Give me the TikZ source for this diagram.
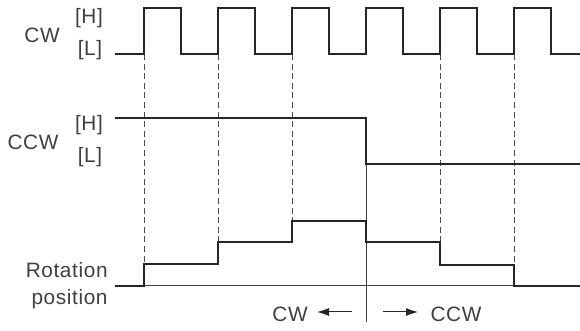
\documentclass[tikz,border=0pt]{standalone}
\usepackage{fontspec}
\setmainfont{Liberation Sans}[LetterSpace=3]
\usetikzlibrary{arrows.meta}

\begin{document}
\begin{tikzpicture}[x=0.5pt, y=-0.5pt, font=\fontsize{10.4}{12}\selectfont,
    wave/.style={line width=1.3pt, draw=black!85, line join=miter},
    guide/.style={line width=0.5pt, draw=black!70, dash pattern=on 3pt off 1.8pt},
    axis/.style={line width=0.5pt, draw=black!75},
    sig/.style={text=black!75, inner sep=0pt},
    dir/.style={line width=0.5pt, draw=black!85, -{Latex[length=6pt, width=4pt]}}]
    \useasboundingbox (0,0) rectangle (580,331);

    % Signal Labels
    % -- CW
    \node[sig] (cw) at (42,35) {CW};
    \node[sig] (cwH) at (89,18) {[H]};
    \node[sig] (cwL) at (90,50) {[L]};

    % -- CCW
    \node[sig] (ccw) at (33,142) {CCW};
    \node[sig] (ccwH) at (89,125) {[H]};
    \node[sig] (ccwL) at (90,157) {[L]};

    % -- rotation
    \node[sig, anchor=east, align=right] (rot) at (108,286) {Rotation\\[1.5pt]position};

    % Guide Lines
    \draw[guide] (144,54) -- (144,264);
    \draw[guide] (218,54) -- (218,242);
    \draw[guide] (292,54) -- (292,221);
    \draw[guide] (440,54) -- (440,242);
    \draw[guide] (514,54) -- (514,265);

    % Axis Lines
    \draw[axis] (144,286) -- (580,286);
    \draw[axis] (366,164) -- (366,322);

    % CW Pulse Train
    \draw[wave] (115,54) -- (144,54) -- (144,8) -- (181,8) -- (181,54)
        -- (218,54) -- (218,8) -- (255,8) -- (255,54)
        -- (292,54) -- (292,8) -- (329,8) -- (329,54)
        -- (366,54) -- (366,8) -- (403,8) -- (403,54)
        -- (440,54) -- (440,8) -- (477,8) -- (477,54)
        -- (514,54) -- (514,8) -- (551,8) -- (551,54) -- (580,54);

    % CCW Level
    \draw[wave] (115,118) -- (366,118) -- (366,164) -- (580,164);

    % Rotation Position Steps
    \draw[wave] (115,286) -- (144,286) -- (144,264) -- (218,264) -- (218,242)
        -- (292,242) -- (292,221) -- (366,221) -- (366,242) -- (440,242)
        -- (440,265) -- (514,265) -- (514,286) -- (580,286);

    % Direction Labels
    \node[sig] (dirCW) at (290,314) {CW};
    \node[sig] (dirCCW) at (456,314) {CCW};
    \coordinate (cwStart) at (352,312);
    \coordinate (cwTip) at (317,312);
    \coordinate (ccwStart) at (383,312);
    \coordinate (ccwTip) at (418,312);
    \draw[dir] (cwStart) -- (cwTip);
    \draw[dir] (ccwStart) -- (ccwTip);
\end{tikzpicture}
\end{document}
